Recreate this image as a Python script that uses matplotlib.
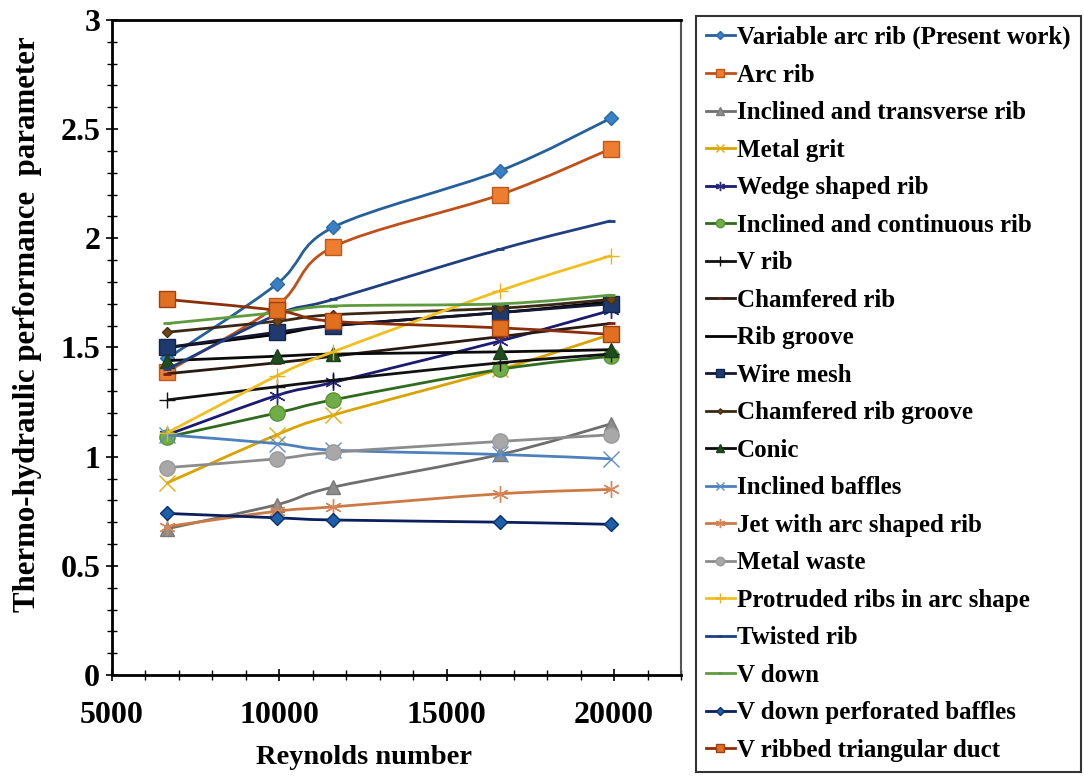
import matplotlib

matplotlib.use("Agg")
import matplotlib.pyplot as plt
from matplotlib.lines import Line2D
from matplotlib.path import Path
from matplotlib.patches import PathPatch
from matplotlib.ticker import MultipleLocator, FuncFormatter

plt.rcParams["font.family"] = ["Liberation Serif", "DejaVu Serif"]
plt.rcParams["font.weight"] = "bold"

# data
reynolds = [6650, 9920, 11600, 16600, 19900]

variable_arc_rib = [1.45, 1.79, 2.05, 2.31, 2.55]
arc_rib = [1.39, 1.69, 1.96, 2.20, 2.41]
inclined_transverse_rib = [0.67, 0.78, 0.86, 1.01, 1.15]
metal_grit = [0.88, 1.10, 1.19, 1.40, 1.56]
wedge_shaped_rib = [1.10, 1.28, 1.34, 1.53, 1.67]
inclined_continuous_rib = [1.09, 1.20, 1.26, 1.40, 1.46]
v_rib = [1.26, 1.32, 1.35, 1.43, 1.47]
chamfered_rib = [1.38, 1.43, 1.46, 1.55, 1.61]
rib_groove = [1.50, 1.56, 1.60, 1.66, 1.71]
wire_mesh = [1.50, 1.57, 1.60, 1.66, 1.70]
chamfered_rib_groove = [1.57, 1.62, 1.65, 1.68, 1.72]
conic = [1.44, 1.46, 1.47, 1.48, 1.49]
inclined_baffles = [1.10, 1.06, 1.03, 1.01, 0.99]
jet_arc_rib = [0.68, 0.75, 0.77, 0.83, 0.85]
metal_waste = [0.95, 0.99, 1.02, 1.07, 1.10]
protruded_arc_ribs = [1.11, 1.37, 1.48, 1.76, 1.92]
twisted_rib = [1.40, 1.65, 1.72, 1.95, 2.08]
v_down = [1.61, 1.66, 1.69, 1.70, 1.74]
v_down_perforated_baffles = [0.74, 0.72, 0.71, 0.70, 0.69]
v_ribbed_triangular_duct = [1.72, 1.67, 1.62, 1.59, 1.56]

series_names = [
    "Variable arc rib (Present work)",
    "Arc rib",
    "Inclined and transverse rib",
    "Metal grit",
    "Wedge shaped rib",
    "Inclined and continuous rib",
    "V rib",
    "Chamfered rib",
    "Rib groove",
    "Wire mesh",
    "Chamfered rib groove",
    "Conic",
    "Inclined baffles",
    "Jet with arc shaped rib",
    "Metal waste",
    "Protruded ribs in arc shape",
    "Twisted rib",
    "V down",
    "V down perforated baffles",
    "V ribbed triangular duct",
]
series_values = [
    variable_arc_rib, arc_rib, inclined_transverse_rib, metal_grit,
    wedge_shaped_rib, inclined_continuous_rib, v_rib, chamfered_rib,
    rib_groove, wire_mesh, chamfered_rib_groove, conic, inclined_baffles,
    jet_arc_rib, metal_waste, protruded_arc_ribs, twisted_rib, v_down,
    v_down_perforated_baffles, v_ribbed_triangular_duct,
]

ASTER = (6, 2, 0)
# line colour, marker, face, edge, marker size, marker edge width
styles = [
    ("#25609A", "D", "#3A80C4", "#2A68A8", 7.5, 1.0),
    ("#C0501A", "s", "#ED7D31", "#C0581A", 11, 1.0),
    ("#6E6E6E", "^", "#8C8C8C", "#7A7A7A", 10, 1.0),
    ("#D9A300", "x", "#E0AC10", "#E0AC10", 11, 1.0),
    ("#1A1A70", ASTER, "#2A2A80", "#2A2A80", 12, 1.0),
    ("#2E6B1E", "o", "#70AD47", "#5A9438", 11, 1.0),
    ("#111111", "+", "#111111", "#111111", 12, 1.0),
    ("#2A1A12", "_", "#7A1F10", "#7A1F10", 6, 2.0),
    ("#000000", "None", "#000000", "#000000", 1, 1.0),
    ("#161630", "s", "#1F3A6E", "#102650", 11, 1.0),
    ("#3A2814", "D", "#6B4418", "#4A2E10", 5, 1.0),
    ("#0A0A0A", "^", "#1E4D1E", "#1A3F1A", 10, 1.0),
    ("#4E80BC", "x", "#5B8FC8", "#5B8FC8", 11, 1.0),
    ("#CC7A45", ASTER, "#D9875A", "#D9875A", 12, 1.0),
    ("#8C8C8C", "o", "#A8A8A8", "#9A9A9A", 11, 1.0),
    ("#F0C020", "+", "#E6B422", "#E6B422", 12, 1.0),
    ("#1F3F80", "_", "#1F3F80", "#1F3F80", 6, 2.0),
    ("#5E9A3E", "_", "#5E9A3E", "#5E9A3E", 6, 2.0),
    ("#0A1F5C", "D", "#1F5FA8", "#0A3070", 7.5, 1.0),
    ("#8B2F0A", "s", "#E07020", "#A04010", 11, 1.0),
]


def smooth_path(xs, ys):
    # excel style smoothed line: catmull-rom segments as cubic beziers
    pts = list(zip(xs, ys))
    n = len(pts)
    verts = [pts[0]]
    codes = [Path.MOVETO]
    for i in range(n - 1):
        p0 = pts[i - 1] if i > 0 else pts[i]
        p1 = pts[i]
        p2 = pts[i + 1]
        p3 = pts[i + 2] if i + 2 < n else pts[i + 1]
        c1 = (p1[0] + (p2[0] - p0[0]) / 6, p1[1] + (p2[1] - p0[1]) / 6)
        c2 = (p2[0] - (p3[0] - p1[0]) / 6, p2[1] - (p3[1] - p1[1]) / 6)
        verts += [c1, c2, p2]
        codes += [Path.CURVE4] * 3
    return Path(verts, codes)


fig = plt.figure(figsize=(10.84, 7.78), dpi=100)
ax = fig.add_axes([112 / 1084, 103 / 778, 569 / 1084, 655 / 778])

handles = []
for k, (name, vals) in enumerate(zip(series_names, series_values)):
    color, marker, mfc, mec, ms, mew = styles[k]
    patch = PathPatch(smooth_path(reynolds, vals), facecolor="none",
                      edgecolor=color, lw=2.0, zorder=2 + k * 0.1)
    ax.add_patch(patch)
    ax.plot(reynolds, vals, linestyle="none", marker=marker, markersize=ms,
            markerfacecolor=mfc, markeredgecolor=mec, markeredgewidth=mew,
            zorder=2.05 + k * 0.1)
    handles.append(Line2D([], [], color=color, lw=2.0, marker=marker,
                          markersize=ms * 0.55, markerfacecolor=mfc,
                          markeredgecolor=mec, markeredgewidth=mew))

ax.set_xlim(5000, 22000)
ax.set_ylim(0, 3)
ax.xaxis.set_major_locator(MultipleLocator(5000))
ax.xaxis.set_minor_locator(MultipleLocator(1000))
ax.yaxis.set_major_locator(MultipleLocator(0.5))
ax.yaxis.set_minor_locator(MultipleLocator(0.1))
ax.yaxis.set_major_formatter(FuncFormatter(lambda v, p: f"{v:g}"))

ax.tick_params(which="major", direction="inout", length=9, width=1.2,
               labelsize=23, color="black")
ax.tick_params(which="minor", direction="inout", length=7, width=1.0,
               color="black")
ax.tick_params(axis="x", which="major", pad=14)
ax.tick_params(axis="y", which="major", pad=4)

for side in ["left", "bottom", "top"]:
    ax.spines[side].set_linewidth(2)
    ax.spines[side].set_color("black")
ax.spines["right"].set_linewidth(1.5)
ax.spines["right"].set_color("#555555")

fig.text(28 / 1084, 1 - 324 / 778, "Thermo-hydraulic performance  parameter",
         rotation=90, ha="center", va="center", fontsize=22.2, fontweight="bold")
fig.text(364 / 1084, 1 - 757 / 778, "Reynolds number",
         ha="center", va="center", fontsize=20.5, fontweight="bold")

leg = fig.legend(handles, series_names, loc="upper left",
                 bbox_to_anchor=(696 / 1084, 1 - 16 / 778),
                 frameon=True, fancybox=False, edgecolor="black",
                 fontsize=18, handlelength=1.15, handletextpad=0.1,
                 labelspacing=0.58, borderpad=0.4, borderaxespad=0)
leg.get_frame().set_linewidth(1.5)

fig.savefig("out.png", dpi=100)
plt.close(fig)
